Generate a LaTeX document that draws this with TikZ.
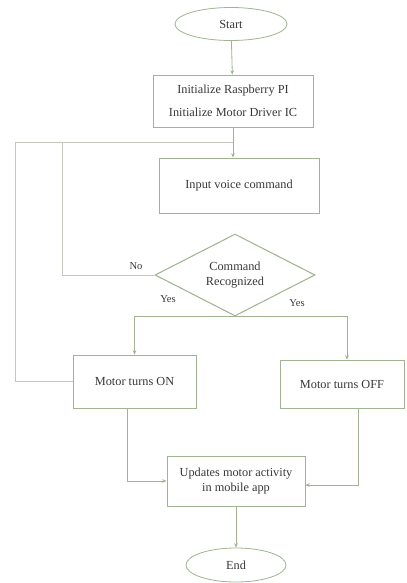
\documentclass[tikz,border=0pt]{standalone}
\usepackage{fontspec}
\setmainfont{Liberation Serif}
\usetikzlibrary{arrows.meta,positioning,shapes.geometric}
\definecolor{boxline}{RGB}{160,180,145}
\definecolor{loopline}{RGB}{195,200,190}
\definecolor{txtcolor}{RGB}{55,55,55}
\begin{document}
\begin{tikzpicture}[x=0.03cm, y=0.03cm, >={Stealth[length=1.3mm,width=1.1mm]},
    every node/.style={text=txtcolor, font=\fontsize{10.5}{13}\selectfont, align=center},
    procbox/.style={draw=boxline, line width=0.7pt, rectangle, inner sep=0pt},
    termnode/.style={draw=boxline, line width=0.7pt, ellipse, inner sep=0pt},
    decision/.style={draw=boxline, line width=0.9pt, diamond, aspect=2, inner sep=0pt},
    flow/.style={->, boxline, line width=0.7pt},
    loopback/.style={loopline, line width=0.8pt}]
    \useasboundingbox (0,0) rectangle (406,-583);
    % --- nodes ---
    \node[termnode, minimum width=3.36cm, minimum height=0.99cm] (start) at (231,-24) {Start};
    \node[procbox, minimum width=4.8cm, minimum height=1.56cm] (init) at (233,-101)
      {Initialize Raspberry PI\\[7pt] Initialize Motor Driver IC};
    \node[procbox, minimum width=4.8cm, minimum height=1.65cm] (input) at (239,-185.5)
      {Input voice command};
    \node[decision, minimum width=4.8cm, minimum height=2.46cm] (cmd) at (235,-275)
      {Command\\Recognized};
    \node[procbox, minimum width=3.69cm, minimum height=1.59cm] (on) at (134.5,-381.5)
      {Motor turns ON};
    \node[procbox, minimum width=3.72cm, minimum height=1.44cm] (off) at (342,-384)
      {Motor turns OFF};
    \node[procbox, minimum width=4.14cm, minimum height=1.5cm] (upd) at (236,-481)
      {Updates motor activity\\in mobile app};
    \node[termnode, minimum width=3cm, minimum height=1.02cm] (end) at (236,-565) {End};
    % --- loop coordinates ---
    \coordinate (join) at (233,-142);
    \coordinate (outer) at (15,-142);
    \coordinate (inner) at (62,-142);
    % --- connectors ---
    \draw[flow] (start) -- (init);
    \draw[boxline, line width=0.7pt] (init.south) -- (join);
    \draw[flow] (join) -- (join |- input.north);
    \draw[loopback] (on.west) -| (outer) -- (join);
    \draw[loopback] (cmd.west) -| (inner);
    \node[font=\fontsize{9}{11}\selectfont] (no) at (136,-266) {No};
    \draw[flow] (cmd.south) -| (on.north);
    \draw[flow] (cmd.south) -| ([xshift=0.15cm]off.north);
    \node[font=\fontsize{9}{11}\selectfont] (yesl) at (168,-299) {Yes};
    \node[font=\fontsize{9}{11}\selectfont] (yesr) at (297,-303) {Yes};
    \draw[flow] ([xshift=-0.2cm]on.south) |- (upd.west);
    \draw[flow] ([xshift=0.48cm]off.south) |- ([yshift=-0.12cm]upd.east);
    \draw[flow] (upd) -- (end);
\end{tikzpicture}
\end{document}
